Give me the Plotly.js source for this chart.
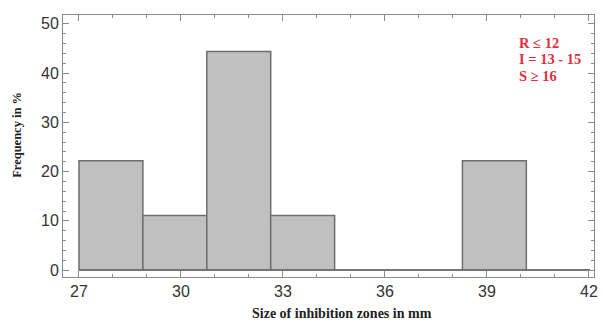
<!DOCTYPE html>
<html><head><meta charset="utf-8">
<script src="https://cdn.plot.ly/plotly-3.0.1.min.js"></script>
<style>html,body{margin:0;padding:0;background:#fff}#c{width:603px;height:322px}</style>
</head><body><div id="c"></div>
<script>
// Histogram bins (mm) and frequency (%)
const binStart = 27;
const binWidth = 1.88;
const frequency = [22.2, 11.1, 44.4, 11.1, 0, 0, 22.2, 0];
const xTickVals = [27, 30, 33, 36, 39, 42];
const yTickVals = [0, 10, 20, 30, 40, 50];
const legendLines = ["R ≤ 12", "I = 13 - 15", "S ≥ 16"];
const xTitle = 'Size of inhibition zones in mm';
const yTitle = 'Frequency in %';

const centers = frequency.map((_, i) => binStart + binWidth * (i + 0.5));
const binEnd = binStart + binWidth * frequency.length;

const trace = {
  type: 'bar', x: centers, y: frequency, width: binWidth,
  marker: {color: '#c0c0c0', line: {color: '#6e6e6e', width: 1.5}},
  hoverinfo: 'skip'
};
const baseline = {
  type: 'scatter', mode: 'lines', x: [binStart, binEnd], y: [0, 0],
  line: {color: '#6e6e6e', width: 1.5}, hoverinfo: 'skip', showlegend: false
};

const axisCommon = {
  showgrid: false, zeroline: false, showline: true, linecolor: '#8a8a8a', linewidth: 1,
  mirror: 'ticks', ticks: 'inside', ticklen: 6, tickcolor: '#8a8a8a',
  tickfont: {family: 'Liberation Sans, Arial, sans-serif', size: 16, color: '#333'}
};

const serifBold = (size, color) => ({family: 'Liberation Serif, Times New Roman, serif', size: size, color: color, weight: 'bold'});

const legendY = [0.893, 0.832, 0.767];
const annotations = legendLines.map((t, i) => ({
  xref: 'paper', yref: 'paper', x: 0.855, y: legendY[i], xanchor: 'left', yanchor: 'middle',
  showarrow: false, text: t, font: serifBold(14.5, '#e03040')
}));
annotations.push({
  xref: 'paper', yref: 'paper', x: 0.525, y: -0.138, xanchor: 'center', yanchor: 'middle',
  showarrow: false, text: xTitle, font: serifBold(14, '#222')
});
annotations.push({
  xref: 'paper', yref: 'paper', x: -0.087, y: 0.542, xanchor: 'center', yanchor: 'middle',
  showarrow: false, text: yTitle, textangle: -90, font: serifBold(12.5, '#222')
});

const layout = {
  width: 603, height: 322, showlegend: false,
  margin: {l: 63, r: 9, t: 15, b: 45},
  paper_bgcolor: '#fff', plot_bgcolor: '#fff',
  bargap: 0,
  xaxis: Object.assign({}, axisCommon, {
    range: [26.53, 42.15], tickvals: xTickVals, ticktext: xTickVals.map(String),
    minor: {dtick: 1, tick0: 27, ticks: 'inside', ticklen: 3, tickcolor: '#8a8a8a'}
  }),
  yaxis: Object.assign({}, axisCommon, {
    range: [-1.4, 51.8], tickvals: yTickVals, ticktext: yTickVals.map(String),
    minor: {dtick: 2, tick0: 0, ticks: 'inside', ticklen: 3, tickcolor: '#8a8a8a'}
  }),
  annotations: annotations
};

Plotly.newPlot('c', [trace, baseline], layout, {staticPlot: true, displayModeBar: false});
</script></body></html>
